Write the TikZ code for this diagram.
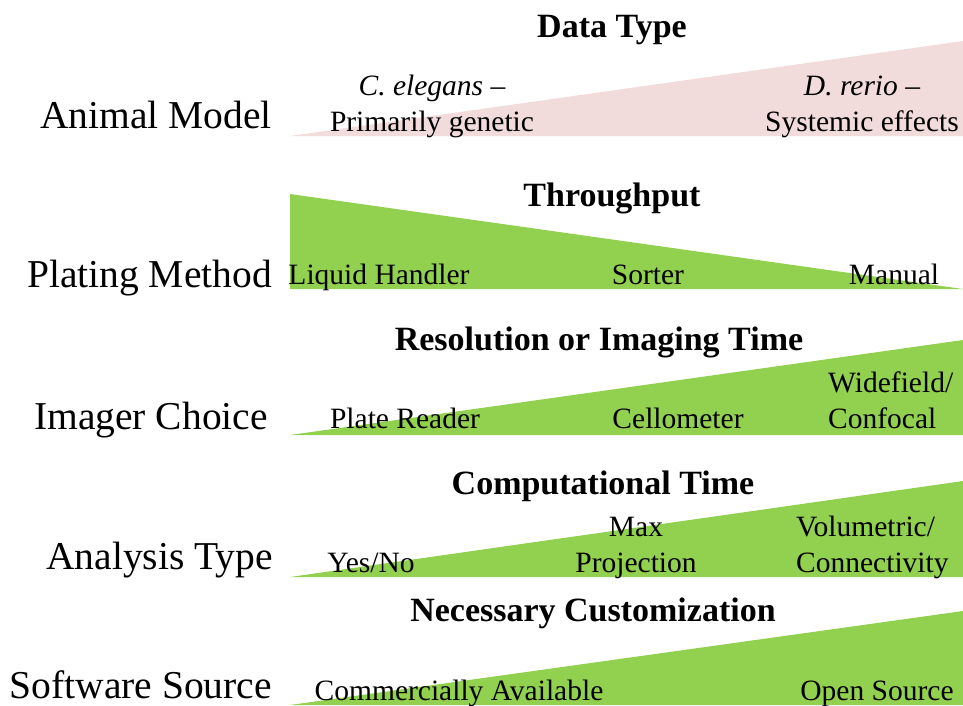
\documentclass[tikz,border=0pt]{standalone}
\usepackage{fontspec}
\setmainfont{Liberation Serif}
\definecolor{pinkfill}{HTML}{F2DCDB}
\definecolor{greenfill}{HTML}{92D050}
\tikzset{
  rowlabel/.style={anchor=base east, inner sep=0pt, font=\fontsize{39.5}{44}\selectfont},
  scaletitle/.style={anchor=base, inner sep=0pt, font=\fontsize{34}{40}\selectfont\bfseries},
  item/.style={anchor=base, inner sep=0pt, font=\fontsize{29.5}{36}\selectfont},
  itemleft/.style={anchor=base west, inner sep=0pt, align=left, font=\fontsize{29.5}{36}\selectfont},
  itemc/.style={anchor=base, inner sep=0pt, align=center, font=\fontsize{29.5}{36}\selectfont},
  wedgepink/.style={fill=pinkfill, draw=none},
  wedgegreen/.style={fill=greenfill, draw=none}
}
\begin{document}
\begin{tikzpicture}[x=1pt,y=-1pt]
\useasboundingbox (0,0) rectangle (963,705);
% wedges
\fill[wedgepink] (290,136) -- (963,136) -- (963,41) -- cycle;
\fill[wedgegreen] (290,194) -- (290,289) -- (963,289) -- cycle;
\fill[wedgegreen] (290,435) -- (963,435) -- (963,340) -- cycle;
\fill[wedgegreen] (290,577) -- (963,577) -- (963,481) -- cycle;
\fill[wedgegreen] (290,705) -- (963,705) -- (963,611) -- cycle;

% row labels
\node[rowlabel] (r1) at (272,128) {Animal Model};
\node[rowlabel] (r2) at (272,287) {Plating Method};
\node[rowlabel] (r3) at (268,429) {Imager Choice};
\node[rowlabel] (r4) at (273,569) {Analysis Type};
\node[rowlabel] (r5) at (272,698) {Software Source};

% titles
\node[scaletitle] (t1) at (612,37) {Data Type};
\node[scaletitle] (t2) at (612,206) {Throughput};
\node[scaletitle] (t3) at (599,350) {Resolution or Imaging Time};
\node[scaletitle] (t4) at (603,494) {Computational Time};
\node[scaletitle] (t5) at (593,621) {Necessary Customization};

% row 1
\node[itemc] (a1) at (432,131) {\itshape C. elegans\/ \upshape–\\Primarily genetic};
\node[itemc] (a2) at (862,131) {\itshape D. rerio\/ \upshape–\\Systemic effects};
% row 2
\node[item] (b1) at (379,284) {Liquid Handler};
\node[item] (b2) at (648,284) {Sorter};
\node[item] (b3) at (894,284) {Manual};
% row 3
\node[item] (c1) at (405,428) {Plate Reader};
\node[item] (c2) at (678,428) {Cellometer};
\node[itemleft] (c3) at (828,428) {Widefield/\\Confocal};
% row 4
\node[item] (d1) at (371,572) {Yes/No};
\node[itemc] (d2) at (636,572) {Max\\Projection};
\node[itemleft] (d3) at (796,572) {Volumetric/\\Connectivity};
% row 5
\node[item] (e1) at (459,700) {Commercially Available};
\node[item] (e2) at (877,700) {Open Source};
\end{tikzpicture}
\end{document}
